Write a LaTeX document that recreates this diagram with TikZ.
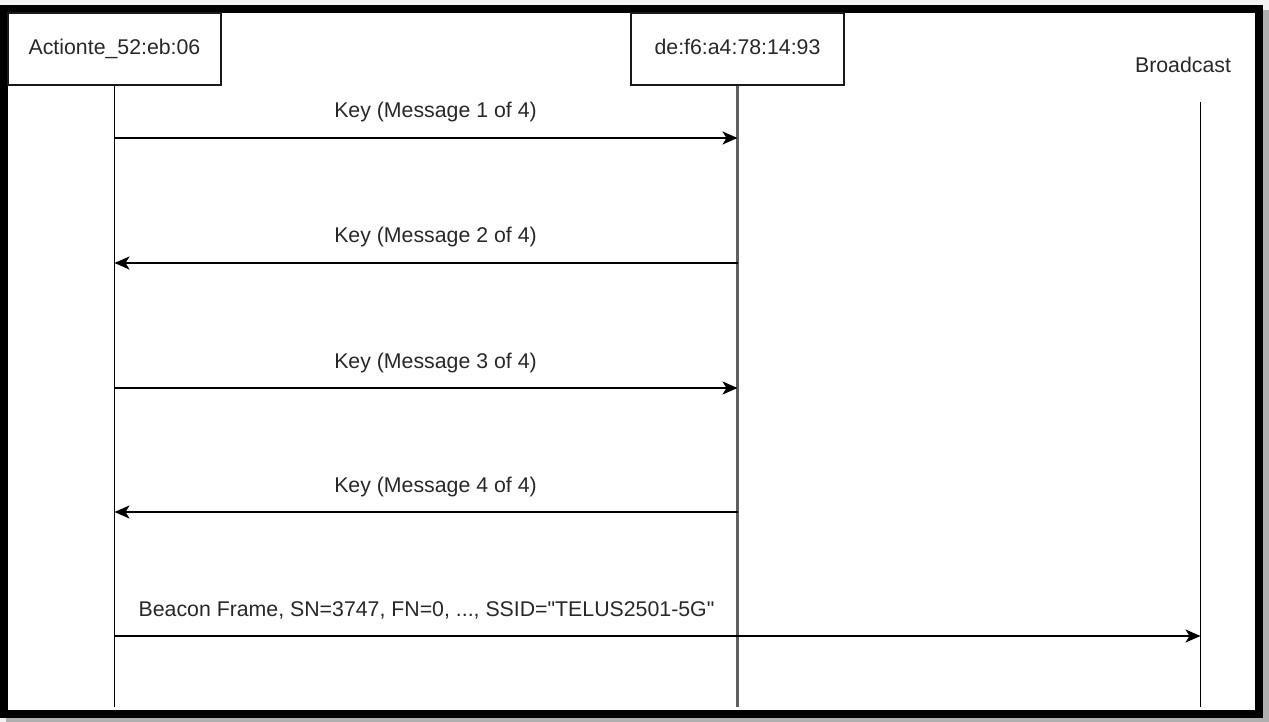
\documentclass[tikz,border=0pt]{standalone}
\usepackage{fontspec}
\setmainfont{Liberation Sans}
\setmonofont{Liberation Sans}
\usetikzlibrary{arrows.meta,calc}
\definecolor{txt}{RGB}{40,40,40}
\definecolor{midline}{RGB}{95,95,95}
\definecolor{shadowc}{RGB}{175,175,175}
\definecolor{bgc}{RGB}{243,243,243}
\tikzset{
  lbl/.style={font=\fontsize{21.3pt}{24pt}\selectfont\ttfamily, text=txt, inner sep=0pt, anchor=base},
  actor/.style={draw=black!90, line width=1.6pt, fill=white, minimum width=213pt, minimum height=72pt,
    inner sep=0pt, font=\fontsize{21.3pt}{24pt}\selectfont\ttfamily, text=txt, text height=15.5pt, text depth=4pt},
  life/.style={line width=1.8pt, black},
  lifemid/.style={line width=2.2pt, midline},
  msg/.style={line width=2pt, black, -{Stealth[length=15pt, width=13pt, inset=4pt]}}
}
\begin{document}
\begin{tikzpicture}[x=1pt, y=-1pt]
\useasboundingbox (0,0) rectangle (1269,722);
% background and frame
\fill[bgc] (0,0) rectangle (1269,722);
\fill[shadowc] (6,10) rectangle (1269,722);
\fill[white] (3.5,8.85) rectangle (1259,713.5);
\draw[line width=8pt, black] (3.5,8.85) rectangle (1259,713.5);
% actors
\node[actor] (A) at (114.5,49) {Actionte\_52:eb:06};
\node[actor] (B) at (737.5,49) {de:f6:a4:78:14:93};
\node[lbl] (C) at (1183,73) {Broadcast};
\coordinate (Ctop) at (1200.5,102);
% lifelines
\coordinate (Aend) at (115,707);
\coordinate (Bend) at (737,707);
\coordinate (Cend) at (1200.5,707);
\draw[life] (A.south) -- (A.south |- Aend);
\draw[lifemid] (B.south) -- (B.south |- Bend);
\draw[life] (Ctop) -- (Cend);
% messages
\draw[msg] (A.south |- 0,138) -- (B.south |- 0,138);
\node[lbl] (m1) at (435.5,118) {Key (Message 1 of 4)};
\draw[msg] (B.south |- 0,263) -- (A.south |- 0,263);
\node[lbl] (m2) at (435.5,243) {Key (Message 2 of 4)};
\draw[msg] (A.south |- 0,388) -- (B.south |- 0,388);
\node[lbl] (m3) at (435.5,368) {Key (Message 3 of 4)};
\draw[msg] (B.south |- 0,512) -- (A.south |- 0,512);
\node[lbl] (m4) at (435.5,492) {Key (Message 4 of 4)};
\draw[msg] (A.south |- 0,636) -- (Ctop |- 0,636);
\node[lbl] (m5) at (426.5,616) {Beacon Frame, SN=3747, FN=0, ..., SSID="TELUS2501-5G"};
\end{tikzpicture}
\end{document}
